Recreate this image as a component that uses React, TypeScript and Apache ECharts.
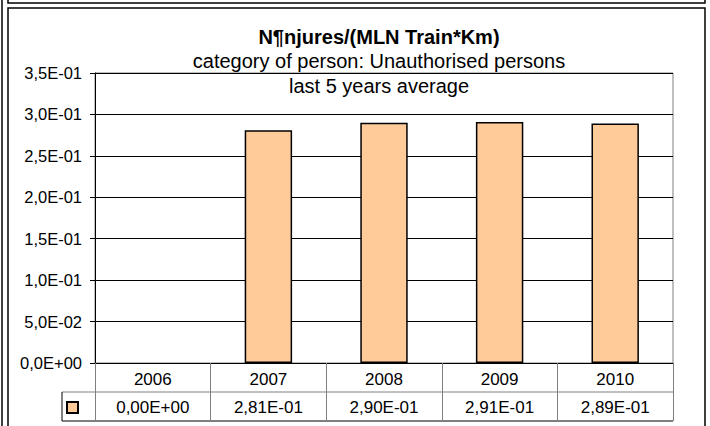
import React, { useEffect, useRef } from "react";
import * as echarts from "echarts";

const years = ["2006", "2007", "2008", "2009", "2010"];
const values = [0, 0.281, 0.29, 0.291, 0.289];
const yMin = 0;
const yMax = 0.35;
const yInterval = 0.05;
const seriesName = "Unauthorised persons";
const titleText = "N¶njures/(MLN Train*Km)";
const subtitleLines = ["category of person: Unauthorised persons", "last 5 years average"];

const FONT = 'Arial, "Liberation Sans", sans-serif';

function sci(v: number, digits: number): string {
  if (v === 0) return (0).toFixed(digits).replace(".", ",") + "E+00";
  let e = Math.floor(Math.log10(Math.abs(v)) + 1e-9);
  let ms = (v / Math.pow(10, e)).toFixed(digits);
  if (Math.abs(parseFloat(ms)) >= 10) {
    e += 1;
    ms = (v / Math.pow(10, e)).toFixed(digits);
  }
  const sign = e < 0 ? "-" : "+";
  return ms.replace(".", ",") + "E" + sign + String(Math.abs(e)).padStart(2, "0");
}

export default function App() {
  const ref = useRef<HTMLDivElement>(null);
  useEffect(() => {
    document.body.style.margin = "0";
    const chart = echarts.init(ref.current!, null, { renderer: "svg" });
    const gray = "#808080";
    chart.setOption({
      animation: false,
      backgroundColor: "#ffffff",
      textStyle: { fontFamily: FONT },
      grid: {
        left: 95,
        top: 73,
        right: 37,
        bottom: 63,
        show: true,
        borderColor: gray,
        borderWidth: 1,
        backgroundColor: "#ffffff",
      },
      legend: {
        data: [seriesName],
        left: 66,
        top: 401,
        itemWidth: 11,
        itemHeight: 11,
        icon: "rect",
        itemGap: 0,
        padding: 0,
        formatter: () => "",
        selectedMode: false,
      },
      xAxis: [
        {
          type: "category",
          data: years,
          position: "bottom",
          axisLine: { show: true, lineStyle: { color: "#000", width: 1 } },
          axisTick: { show: true, length: 29, lineStyle: { color: gray, width: 1 } },
          axisLabel: { margin: 8, fontSize: 17, color: "#000", fontFamily: FONT },
        },
        {
          type: "category",
          data: values.map((v) => sci(v, 2)),
          position: "bottom",
          offset: 29,
          axisLine: { show: false },
          axisTick: { show: true, length: 29, lineStyle: { color: gray, width: 1 } },
          axisLabel: { margin: 7, fontSize: 17, color: "#000", fontFamily: FONT },
        },
      ],
      yAxis: {
        type: "value",
        min: yMin,
        max: yMax,
        interval: yInterval,
        axisLine: { show: true, lineStyle: { color: "#000", width: 1 } },
        axisTick: { show: true, length: 5, lineStyle: { color: "#000" } },
        axisLabel: {
          margin: 13,
          fontSize: 16.5,
          color: "#000",
          fontFamily: FONT,
          formatter: (v: number) => sci(v, 1),
        },
        splitLine: { show: true, lineStyle: { color: "#000", width: 1 } },
      },
      series: [
        {
          name: seriesName,
          type: "bar",
          xAxisIndex: 0,
          data: values.map((v) => (v === 0 ? { value: v, itemStyle: { borderWidth: 0 } } : v)),
          barWidth: "41%",
          itemStyle: { color: "#FFCC99", borderColor: "#000", borderWidth: 1.5 },
        },
      ],
      graphic: [
        { type: "line", shape: { x1: 2, y1: 0, x2: 2, y2: 426 }, style: { stroke: "#000", lineWidth: 1.5 } },
        { type: "rect", shape: { x: 8, y: -20, width: 697, height: 23 }, style: { stroke: "#000", lineWidth: 1.5, fill: "none" } },
        { type: "rect", shape: { x: 8, y: 8, width: 697, height: 440 }, style: { stroke: "#000", lineWidth: 1.5, fill: "none" } },
        { type: "line", shape: { x1: 62, y1: 392, x2: 673, y2: 392 }, style: { stroke: gray, lineWidth: 1 } },
        { type: "line", shape: { x1: 62, y1: 421, x2: 673, y2: 421 }, style: { stroke: "#000", lineWidth: 1 } },
        { type: "line", shape: { x1: 62, y1: 392, x2: 62, y2: 421 }, style: { stroke: "#000", lineWidth: 1 } },
        {
          type: "text",
          x: 379,
          y: 37,
          style: { text: titleText, font: `bold 20px ${FONT}`, fill: "#000", textAlign: "center", textVerticalAlign: "middle" },
        },
        {
          type: "text",
          x: 379,
          y: 61,
          style: { text: subtitleLines[0], font: `20px ${FONT}`, fill: "#000", textAlign: "center", textVerticalAlign: "middle" },
        },
        {
          type: "text",
          x: 379,
          y: 86,
          z: 10,
          style: { text: subtitleLines[1], font: `20px ${FONT}`, fill: "#000", textAlign: "center", textVerticalAlign: "middle" },
        },
      ],
    });
    return () => chart.dispose();
  }, []);
  return <div ref={ref} style={{ position: "absolute", left: 0, top: 0, width: 710, height: 426 }} />;
}
